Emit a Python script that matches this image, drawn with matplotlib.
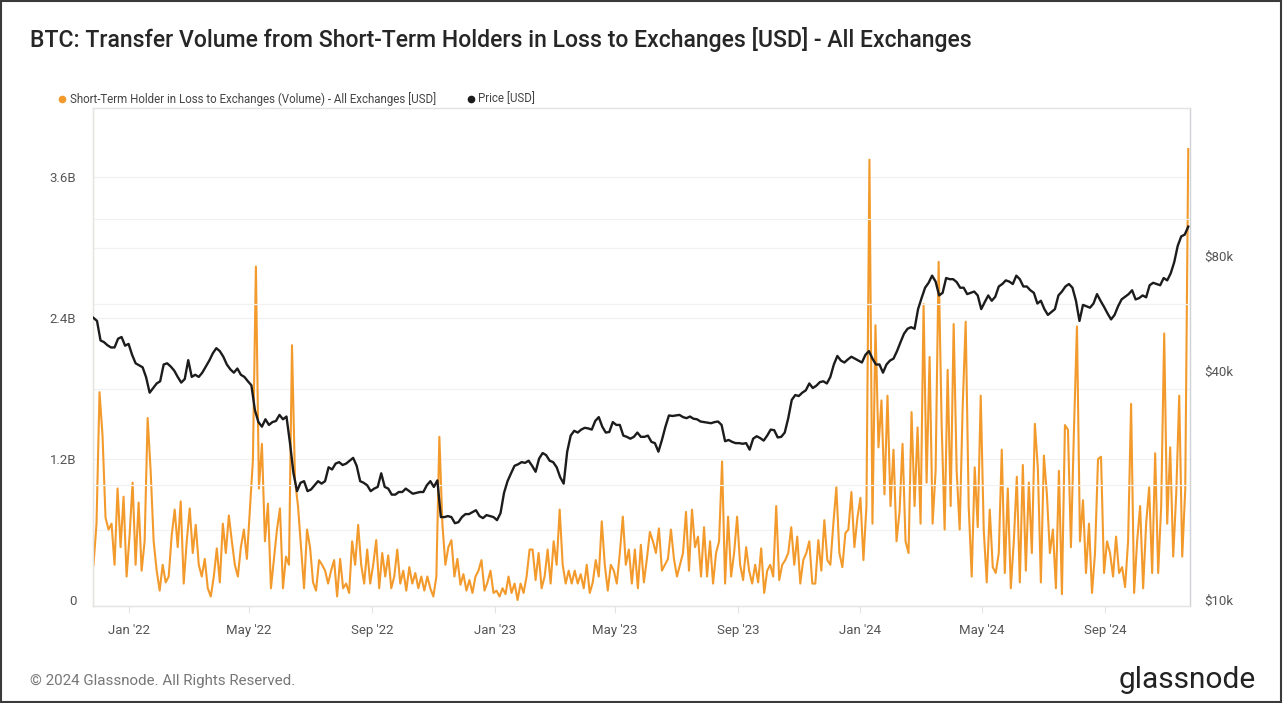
import matplotlib
matplotlib.use("Agg")
import matplotlib.pyplot as plt
from matplotlib.lines import Line2D
from matplotlib.patches import Rectangle
import pandas as pd

plt.rcParams["font.family"] = ["Roboto", "DejaVu Sans"]

# ── data ─────────────────────────────────────────────────────────────────────
# STH-in-loss volume to exchanges, billions USD, every 3 days from 2021-11-27
volume_bn = [
    0.3, 0.65, 1.77, 1.4, 0.7, 0.6, 0.65, 0.3, 0.95, 0.45,
    0.88, 0.2, 0.55, 1.0, 0.3, 0.83, 0.25, 0.5, 1.55, 1.1,
    0.5, 0.25, 0.08, 0.3, 0.15, 0.2, 0.55, 0.77, 0.45, 0.84,
    0.14, 0.5, 0.78, 0.4, 0.64, 0.3, 0.2, 0.35, 0.1, 0.03,
    0.2, 0.44, 0.15, 0.65, 0.4, 0.72, 0.5, 0.3, 0.2, 0.45,
    0.6, 0.35, 0.77, 1.19, 2.84, 0.95, 1.33, 0.5, 0.82, 0.1,
    0.35, 0.6, 0.78, 0.1, 0.37, 0.3, 2.17, 1.02, 0.8, 0.45,
    0.1, 0.6, 0.45, 0.15, 0.08, 0.34, 0.3, 0.25, 0.14, 0.25,
    0.34, 0.03, 0.35, 0.1, 0.14, 0.06, 0.5, 0.3, 0.64, 0.3,
    0.14, 0.43, 0.14, 0.3, 0.51, 0.1, 0.4, 0.2, 0.38, 0.1,
    0.2, 0.43, 0.14, 0.25, 0.08, 0.28, 0.14, 0.23, 0.1, 0.2,
    0.08, 0.2, 0.1, 0.03, 0.2, 1.39, 0.65, 0.3, 0.45, 0.51,
    0.2, 0.35, 0.13, 0.22, 0.08, 0.17, 0.06, 0.2, 0.25, 0.34,
    0.08, 0.15, 0.25, 0.06, 0.08, 0.03, 0.1, 0.05, 0.2, 0.06,
    0.14, 0.0, 0.14, 0.06, 0.2, 0.43, 0.43, 0.17, 0.4, 0.1,
    0.2, 0.43, 0.14, 0.5, 0.3, 0.77, 0.3, 0.14, 0.25, 0.14,
    0.25, 0.14, 0.22, 0.1, 0.3, 0.06, 0.15, 0.34, 0.2, 0.67,
    0.3, 0.08, 0.3, 0.25, 0.14, 0.4, 0.71, 0.3, 0.43, 0.14,
    0.43, 0.1, 0.47, 0.15, 0.35, 0.58, 0.5, 0.4, 0.61, 0.25,
    0.3, 0.35, 0.6, 0.35, 0.2, 0.3, 0.4, 0.75, 0.25, 0.77,
    0.45, 0.54, 0.2, 0.62, 0.2, 0.5, 0.14, 0.4, 0.5, 1.18,
    0.14, 0.71, 0.2, 0.4, 0.71, 0.3, 0.17, 0.45, 0.25, 0.14,
    0.3, 0.15, 0.44, 0.06, 0.25, 0.3, 0.2, 0.8, 0.17, 0.3,
    0.34, 0.4, 0.62, 0.3, 0.54, 0.14, 0.34, 0.4, 0.5, 0.14,
    0.14, 0.51, 0.25, 0.68, 0.34, 0.3, 0.65, 0.96, 0.4, 0.28,
    0.57, 0.6, 0.92, 0.45, 0.7, 0.87, 0.34, 0.8, 3.75, 0.65,
    2.34, 1.3, 1.7, 0.9, 1.74, 0.8, 1.28, 0.5, 0.75, 1.33,
    0.5, 0.4, 1.6, 0.8, 1.47, 0.65, 2.52, 1.0, 2.07, 0.65,
    1.1, 2.88, 1.5, 0.6, 1.96, 0.8, 2.35, 1.1, 0.6, 1.65,
    2.37, 0.8, 0.2, 1.13, 0.62, 1.74, 0.6, 0.15, 0.77, 0.28,
    0.23, 0.4, 1.28, 0.23, 0.95, 0.1, 0.5, 1.05, 0.15, 1.15,
    0.25, 1.0, 0.4, 1.5, 1.12, 0.15, 1.23, 0.9, 0.4, 0.6,
    0.1, 1.1, 0.05, 1.49, 1.45, 0.45, 1.45, 2.33, 0.5, 0.85,
    0.23, 0.65, 0.06, 0.4, 1.2, 1.22, 0.23, 0.5, 0.4, 0.2,
    0.54, 0.23, 0.28, 0.11, 0.5, 1.67, 0.06, 0.5, 0.8, 0.1,
    0.65, 0.96, 0.23, 1.25, 0.23, 0.8, 2.27, 0.65, 1.3, 0.37,
    0.9, 1.74, 0.37, 0.94, 3.84,
]

# BTC price, thousands USD, every 3.5 days from 2021-11-27
price_k = [
    55, 54, 48, 47.5, 46.6, 46, 46, 48.5, 49, 46.5,
    47, 44, 41.8, 41.3, 40.8, 38.4, 35, 36, 37, 37.5,
    41.5, 41.8, 41, 40, 38.5, 37.2, 38, 42.6, 38.5, 39,
    38.5, 39.5, 41, 42.5, 44.4, 45.8, 45, 43.5, 41.5, 40.3,
    39.5, 40.5, 39, 38.5, 37.5, 36.6, 31.5, 29.3, 28.5, 29.8,
    28.8, 29.3, 29.5, 30.6, 29.8, 30.3, 25.8, 21.5, 19.3, 20.3,
    20.5, 19.3, 19.5, 20.0, 20.5, 20.2, 20.5, 22.3, 22, 22.8,
    23, 22.6, 22.8, 23.2, 23.6, 22.5, 20.5, 20.3, 20, 19.3,
    19.6, 19.8, 21.5, 19.8, 19.6, 18.9, 18.9, 19.2, 19.2, 19.6,
    19.3, 19.0, 19.1, 19.2, 19.2, 20.0, 20.5, 19.8, 20.6, 16.5,
    16.5, 16.6, 16.5, 15.9, 16.0, 16.5, 16.8, 16.8, 17.0, 17.2,
    16.6, 16.4, 16.7, 16.6, 16.5, 16.2, 16.9, 19.1, 20.5, 21.5,
    22.5, 22.7, 23, 22.9, 23.2, 22.5, 21.7, 23.5, 24.3, 24.0,
    23.2, 23.0, 22.3, 21.0, 20.2, 24.5, 27, 27.8, 27.5, 28.0,
    28.3, 28.2, 28, 29.5, 30.2, 28.5, 27.5, 27.6, 29.3, 28.8,
    28.8, 27.0, 26.8, 26.5, 26.8, 27.5, 26.8, 26.8, 27, 26.0,
    25.8, 24.5, 26.3, 28.5, 30.5, 30.4, 30.5, 30.6, 30.2, 30.0,
    30.3, 29.9, 29.8, 29.4, 29.3, 29.2, 29.1, 29.3, 29.4, 28.8,
    26.1, 26.3, 26.0, 25.8, 25.8, 25.7, 25.8, 24.8, 26.5, 26.9,
    26.6, 26.2, 27, 28.0, 27.9, 26.7, 26.8, 27.5, 30, 33.5,
    34.5, 34.3, 35, 35.5, 37, 36.0, 36.5, 37.3, 37.5, 37.0,
    38.5, 41.5, 43.7, 42.5, 42, 42.8, 43.5, 43.0, 42.5, 42.0,
    44, 45.0, 43, 41.5, 41.5, 39.5, 41.5, 42.5, 43, 45,
    47.5, 50, 51.5, 52, 51.5, 58, 62, 66, 68, 71,
    68.5, 63, 64, 70, 69.5, 69.5, 68.3, 66, 66, 63.5,
    64, 64.5, 63, 58, 60.5, 63, 61, 62.5, 66.5, 67.5,
    69, 68.5, 67.5, 71, 69.5, 66.5, 66.5, 65, 64, 60,
    61, 58, 56, 57, 58, 63, 64.5, 66.5, 67.5, 66,
    61, 54, 59.5, 59, 58.5, 60, 63.5, 61, 58.8, 56.5,
    54.5, 56, 59, 61.5, 62.5, 63.5, 65, 61.5, 62, 63,
    62.3, 67, 68, 67.5, 67, 70, 69, 72, 77, 85,
    90, 91, 95.5,
]

volume_dates = pd.date_range("2021-11-27", periods=len(volume_bn), freq="3D")
price_dates = pd.date_range("2021-11-27", periods=len(price_k), freq="84h")

tick_dates = pd.to_datetime(["2022-01-01", "2022-05-01", "2022-09-01", "2023-01-01",
                             "2023-05-01", "2023-09-01", "2024-01-01", "2024-05-01",
                             "2024-09-01"])
tick_labels = ["Jan '22", "May '22", "Sep '22", "Jan '23", "May '23", "Sep '23",
               "Jan '24", "May '24", "Sep '24"]
vol_ticks = [0, 1.2e9, 2.4e9, 3.6e9]
vol_tick_labels = ["0", "1.2B", "2.4B", "3.6B"]
price_ticks = [10000, 40000, 80000]
price_tick_labels = ["$10k", "$40k", "$80k"]

ORANGE = "#f39a2c"
DARK = "#1c1c1c"
GRID = "#f1f1f1"
TXT = "#555555"

# ── figure ───────────────────────────────────────────────────────────────────
fig = plt.figure(figsize=(12.84, 7.03), dpi=100)
fig.patch.set_facecolor("white")
ax = fig.add_axes([93 / 1284, 1 - 606 / 703, (1190 - 93) / 1284, (606 - 108) / 703])
ax2 = ax.twinx()

# light grid
for g in [0.6e9, 1.2e9, 1.8e9, 2.4e9, 3.0e9, 3.6e9, 4.2e9]:
    ax.axhline(g, color=GRID, lw=0.9, zorder=0)

ax.plot(volume_dates, [v * 1e9 for v in volume_bn], color=ORANGE, lw=1.5, zorder=3)
ax.set_ylim(-0.051e9, 4.19e9)
ax.set_yticks(vol_ticks)
ax.set_yticklabels(vol_tick_labels)

ax2.plot(price_dates, [p * 1000 for p in price_k], color=DARK, lw=1.7, zorder=4)
ax2.set_yscale("log")
ax2.set_ylim(9640, 195600)
for g in [20000, 60000, 100000]:
    ax2.axhline(g, color=GRID, lw=0.9, zorder=0)
ax2.set_yticks(price_ticks)
ax2.set_yticklabels(price_tick_labels)
ax2.yaxis.set_minor_locator(matplotlib.ticker.NullLocator())

ax.set_xlim(pd.Timestamp("2021-11-26 12:00"), pd.Timestamp("2024-11-24 18:00"))
ax.set_xticks(tick_dates)
ax.set_xticklabels(tick_labels)

for a in (ax, ax2):
    for s in a.spines.values():
        s.set_color("#e4e4e4")
        s.set_linewidth(0.9)
    a.tick_params(length=0, labelsize=9.5, colors=TXT)
ax.spines["left"].set_color("#eadcc4")
ax2.spines["right"].set_color("#cfd3d8")
ax.tick_params(axis="x", pad=8, length=5, color="#e4e4e4", direction="out")
ax.tick_params(axis="y", pad=12)
ax2.tick_params(axis="y", pad=10)
ax.patch.set_visible(False)
ax2.set_zorder(ax.get_zorder() + 1)
ax2.patch.set_visible(False)

# ── texts ────────────────────────────────────────────────────────────────────
fig.text(30 / 1284, 1 - 40 / 703,
         "BTC: Transfer Volume from Short-Term Holders in Loss to Exchanges [USD] - All Exchanges",
         fontsize=16.6, color="#262626", ha="left", va="center", fontweight="medium")

fig.add_artist(Line2D([62 / 1284], [1 - 99 / 703], marker="o", color=ORANGE,
                      markersize=4.5, transform=fig.transFigure))
fig.text(70 / 1284, 1 - 99 / 703,
         "Short-Term Holder in Loss to Exchanges (Volume) - All Exchanges [USD]",
         fontsize=8.3, color="#444444", ha="left", va="center")
fig.add_artist(Line2D([471 / 1284], [1 - 99 / 703], marker="o", color=DARK,
                      markersize=4.5, transform=fig.transFigure))
fig.text(478 / 1284, 1 - 99 / 703, "Price [USD]",
         fontsize=8.3, color="#444444", ha="left", va="center")

fig.text(30 / 1284, 1 - 681 / 703, "© 2024 Glassnode. All Rights Reserved.",
         fontsize=10.9, color="#777777", ha="left", va="center")
fig.text(1256 / 1284, 1 - 680 / 703, "glassnode",
         fontsize=21.5, color="#222222", ha="right", va="center")

fig.add_artist(Rectangle((0.001, 0.002), 0.997, 0.996, transform=fig.transFigure,
                         fill=False, edgecolor="#3a3a3a", linewidth=1.5))

fig.savefig("out.png", dpi=100, facecolor="white")
